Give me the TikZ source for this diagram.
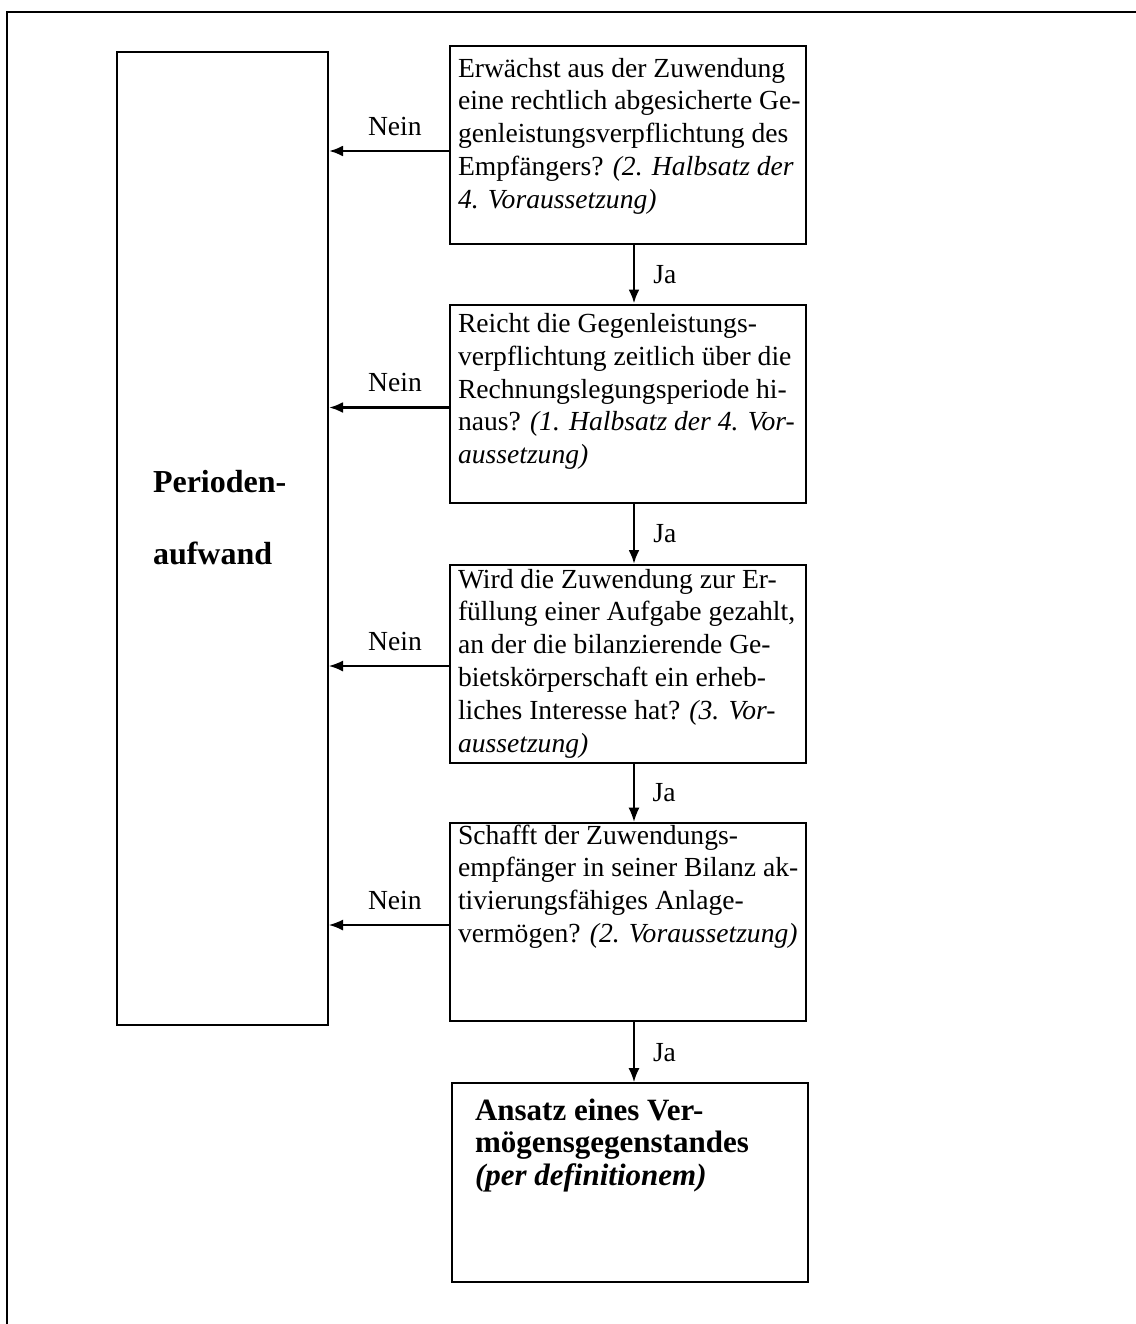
\documentclass[tikz,border=0pt]{standalone}
\usepackage{fontspec}
\setmainfont{Liberation Serif}
\usetikzlibrary{arrows.meta}
\newcommand{\bxt}[5]{\parbox[c][#1][t]{#2}{\raggedright\leftskip=#3\relax\rule{0pt}{#4}\ignorespaces#5}}
\tikzset{
  qbox/.style={draw, line width=1pt, inner sep=0pt, font=\fontsize{13.8}{16.4}\selectfont},
  arr/.style={-{Latex[length=7pt,width=5.5pt]}, line width=1pt},
  lbl/.style={font=\fontsize{13.8}{16.4}\selectfont, inner sep=0pt},
  ja/.style={lbl, midway, anchor=west, xshift=9pt},
  nein/.style={lbl, midway, anchor=base, yshift=8pt, xshift=3pt}
}
\begin{document}
\begin{tikzpicture}[x=0.5pt, y=-0.5pt]
\useasboundingbox (0,0) rectangle (1136,1324);
\draw[line width=1pt] (1136,12) -- (7,12) -- (7,1324);

\node[qbox, font=\fontsize{16}{16.4}\selectfont\bfseries] (L) at (222.5,538.5)
  {\bxt{486.5pt}{105.5pt}{18pt}{220pt}{Perioden-\\[20pt]aufwand}};

\node[qbox, line width=1.3pt] (b1) at (628,145)
  {\bxt{99pt}{178pt}{4pt}{15.5pt}{Erwächst aus der Zuwendung\\ eine rechtlich abgesicherte Ge-\\ genleistungsverpflichtung des\\ Empfängers? \textit{(2. Halbsatz der}\\ \textit{4. Voraussetzung)}}};

\node[qbox] (b2) at (628,403.5)
  {\bxt{99pt}{178pt}{4pt}{14pt}{Reicht die Gegenleistungs-\\ verpflichtung zeitlich über die\\ Rechnungslegungsperiode hi-\\ naus? \textit{(1. Halbsatz der 4. Vor-}\\ \textit{aussetzung)}}};

\node[qbox] (b3) at (628,664)
  {\bxt{99pt}{178pt}{4pt}{11.5pt}{Wird die Zuwendung zur Er-\\ füllung einer Aufgabe gezahlt,\\ an der die bilanzierende Ge-\\ bietskörperschaft ein erheb-\\ liches Interesse hat? \textit{(3. Vor-}\\ \textit{aussetzung)}}};

\node[qbox, line width=1.3pt] (b4) at (628,922)
  {\bxt{99pt}{178pt}{4pt}{10.5pt}{Schafft der Zuwendungs-\\ empfänger in seiner Bilanz ak-\\ tivierungsfähiges Anlage-\\ vermögen? \textit{(2. Voraussetzung)}}};

\node[qbox, line width=0.8pt, font=\fontsize{15.5}{16.25}\selectfont\bfseries] (b5) at (630,1182.5)
  {\bxt{99.5pt}{178pt}{11.5pt}{18.5pt}{Ansatz eines Ver-\\ mögensgegenstandes\\ \textit{(per definitionem)}}};

% Ja arrows
\draw[arr, line width=1.3pt] ([xshift=3pt]b1.south) -- ([xshift=3pt]b1.south |- b2.north) node[ja]{Ja};
\draw[arr, line width=1.3pt] ([xshift=3pt]b2.south) -- ([xshift=3pt]b2.south |- b3.north) node[ja]{Ja};
\draw[arr, line width=0.7pt] ([xshift=3pt]b3.south) -- ([xshift=3pt]b3.south |- b4.north) node[ja]{Ja};
\draw[arr] ([xshift=3pt]b4.south) -- ([xshift=3pt]b4.south |- b5.north) node[ja]{Ja};

% Nein arrows
\draw[arr, line width=1.3pt] ([yshift=-3pt]b1.west) -- ([yshift=-3pt]b1.west -| L.east) node[nein]{Nein};
\draw[arr, line width=1.3pt] ([yshift=-2pt]b2.west) -- ([yshift=-2pt]b2.west -| L.east) node[nein]{Nein};
\draw[arr, line width=0.7pt] ([yshift=-1pt]b3.west) -- ([yshift=-1pt]b3.west -| L.east) node[nein]{Nein};
\draw[arr, line width=0.7pt] ([yshift=-1.5pt]b4.west) -- ([yshift=-1.5pt]b4.west -| L.east) node[nein]{Nein};
\end{tikzpicture}
\end{document}
